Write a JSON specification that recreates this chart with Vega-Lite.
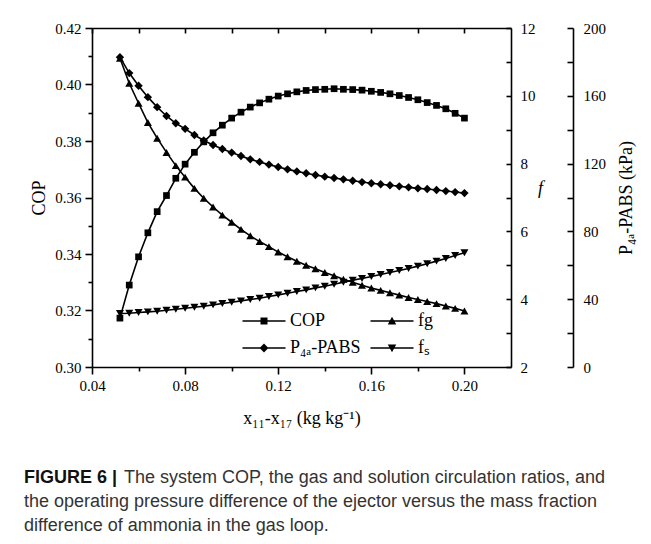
{
  "$schema": "https://vega.github.io/schema/vega-lite/v6.json",
  "width": 419,
  "height": 339,
  "autosize": "none",
  "padding": {"left": 92, "top": 28, "right": 140, "bottom": 177},
  "background": "white",
  "config": {
    "view": {"stroke": null},
    "font": "Liberation Serif",
    "axis": {
      "labelFont": "Liberation Serif", "labelFontSize": 15, "labelColor": "black",
      "titleFont": "Liberation Serif", "titleFontSize": 18, "titleFontWeight": "normal", "titleColor": "black",
      "domainColor": "black", "domainWidth": 1.6, "tickColor": "black", "tickWidth": 1.6, "grid": false
    },
    "legend": {
      "orient": "none", "legendX": 163, "legendY": 284, "columns": 2, "direction": "horizontal", "title": null, "padding": 0,
      "symbolSize": 100, "symbolFillColor": "black", "symbolStrokeColor": "black", "symbolStrokeWidth": 0,
      "symbolOpacity": 1, "labelFont": "Liberation Serif", "labelFontSize": 18, "labelColor": "black",
      "labelOffset": 17, "columnPadding": 9, "rowPadding": 9
    }
  },
  "title": {
    "text": "FIGURE 6 |",
    "subtitle": [
      "\u200b\u00a0\u00a0\u00a0\u00a0\u00a0\u00a0\u00a0\u00a0\u00a0\u00a0\u00a0\u00a0\u00a0\u00a0\u00a0\u00a0\u00a0\u00a0\u00a0\u00a0The system COP, the gas and solution circulation ratios, and",
      "the operating pressure difference of the ejector versus the mass fraction",
      "difference of ammonia in the gas loop."
    ],
    "orient": "bottom", "anchor": "start", "frame": "group",
    "dx": -68, "offset": 42,
    "font": "Liberation Sans", "fontSize": 18, "fontWeight": "bold", "color": "#111111",
    "subtitleFont": "Liberation Sans", "subtitleFontSize": 18, "subtitleColor": "#333333",
    "subtitleLineHeight": 24, "subtitlePadding": -18
  },
  "data": {
    "values": [
      {"x": 0.052, "cop": 0.3173, "fg": 11.11, "p": 182.8, "fs": 3.576},
      {"x": 0.056, "cop": 0.3290, "fg": 10.37, "p": 173.4, "fs": 3.586},
      {"x": 0.060, "cop": 0.3390, "fg": 9.78, "p": 165.9, "fs": 3.606},
      {"x": 0.064, "cop": 0.3475, "fg": 9.21, "p": 159.2, "fs": 3.626},
      {"x": 0.068, "cop": 0.3550, "fg": 8.75, "p": 153.3, "fs": 3.645},
      {"x": 0.072, "cop": 0.3607, "fg": 8.33, "p": 148.1, "fs": 3.675},
      {"x": 0.076, "cop": 0.3668, "fg": 7.94, "p": 143.8, "fs": 3.704},
      {"x": 0.080, "cop": 0.3718, "fg": 7.60, "p": 140.5, "fs": 3.734},
      {"x": 0.084, "cop": 0.3760, "fg": 7.27, "p": 136.9, "fs": 3.764},
      {"x": 0.088, "cop": 0.3797, "fg": 6.98, "p": 133.6, "fs": 3.793},
      {"x": 0.092, "cop": 0.3829, "fg": 6.72, "p": 131.0, "fs": 3.833},
      {"x": 0.096, "cop": 0.3856, "fg": 6.48, "p": 128.6, "fs": 3.872},
      {"x": 0.100, "cop": 0.3881, "fg": 6.27, "p": 126.5, "fs": 3.911},
      {"x": 0.104, "cop": 0.3902, "fg": 6.06, "p": 124.5, "fs": 3.951},
      {"x": 0.108, "cop": 0.3920, "fg": 5.87, "p": 122.5, "fs": 3.990},
      {"x": 0.112, "cop": 0.3935, "fg": 5.70, "p": 121.0, "fs": 4.030},
      {"x": 0.116, "cop": 0.3948, "fg": 5.55, "p": 119.4, "fs": 4.079},
      {"x": 0.120, "cop": 0.3959, "fg": 5.39, "p": 118.0, "fs": 4.128},
      {"x": 0.124, "cop": 0.3967, "fg": 5.25, "p": 116.6, "fs": 4.177},
      {"x": 0.128, "cop": 0.3974, "fg": 5.12, "p": 115.4, "fs": 4.227},
      {"x": 0.132, "cop": 0.3979, "fg": 5.00, "p": 114.3, "fs": 4.276},
      {"x": 0.136, "cop": 0.3982, "fg": 4.90, "p": 113.3, "fs": 4.335},
      {"x": 0.140, "cop": 0.3983, "fg": 4.79, "p": 112.3, "fs": 4.384},
      {"x": 0.144, "cop": 0.3985, "fg": 4.69, "p": 111.5, "fs": 4.443},
      {"x": 0.148, "cop": 0.3983, "fg": 4.59, "p": 110.7, "fs": 4.502},
      {"x": 0.152, "cop": 0.3982, "fg": 4.50, "p": 109.9, "fs": 4.562},
      {"x": 0.156, "cop": 0.3980, "fg": 4.41, "p": 109.1, "fs": 4.611},
      {"x": 0.160, "cop": 0.3976, "fg": 4.33, "p": 108.4, "fs": 4.670},
      {"x": 0.164, "cop": 0.3972, "fg": 4.26, "p": 107.8, "fs": 4.729},
      {"x": 0.168, "cop": 0.3967, "fg": 4.19, "p": 107.2, "fs": 4.788},
      {"x": 0.172, "cop": 0.3961, "fg": 4.12, "p": 106.6, "fs": 4.847},
      {"x": 0.176, "cop": 0.3954, "fg": 4.05, "p": 106.0, "fs": 4.906},
      {"x": 0.180, "cop": 0.3946, "fg": 3.99, "p": 105.4, "fs": 4.975},
      {"x": 0.184, "cop": 0.3936, "fg": 3.93, "p": 105.0, "fs": 5.044},
      {"x": 0.188, "cop": 0.3926, "fg": 3.87, "p": 104.4, "fs": 5.123},
      {"x": 0.192, "cop": 0.3914, "fg": 3.80, "p": 103.8, "fs": 5.202},
      {"x": 0.196, "cop": 0.3898, "fg": 3.73, "p": 103.2, "fs": 5.291},
      {"x": 0.200, "cop": 0.3881, "fg": 3.65, "p": 102.6, "fs": 5.369}
    ]
  },
  "layer": [
    {
      "mark": {"type": "line", "color": "black", "strokeWidth": 1.6,
               "point": {"shape": "square", "filled": true, "size": 45, "color": "black"}},
      "encoding": {
        "x": {"field": "x", "type": "quantitative",
              "scale": {"domain": [0.04, 0.22], "nice": false, "zero": false},
              "axis": {"orient": "bottom", "values": [0.04, 0.06, 0.08, 0.10, 0.12, 0.14, 0.16, 0.18, 0.20],
                       "labelExpr": "round(datum.value*100) % 4 == 0 ? format(datum.value, '.2f') : ''",
                       "tickSize": {"condition": {"test": "round(datum.value*100) % 4 == 0", "value": 7}, "value": 4},
                       "labelPadding": 4, "labelFlush": false, "labelOverlap": false,
                       "title": "x\u2081\u2081-x\u2081\u2087 (kg kg\u207b\u00b9)", "titlePadding": 16}},
        "y": {"field": "cop", "type": "quantitative",
              "scale": {"domain": [0.30, 0.42], "nice": false, "zero": false},
              "axis": {"orient": "left", "values": [0.30, 0.31, 0.32, 0.33, 0.34, 0.35, 0.36, 0.37, 0.38, 0.39, 0.40, 0.41, 0.42],
                       "labelExpr": "round(datum.value*100) % 2 == 0 ? format(datum.value, '.2f') : ''",
                       "tickSize": {"condition": {"test": "round(datum.value*100) % 2 == 0", "value": 7}, "value": 4},
                       "labelPadding": 4, "labelFlush": false, "labelOverlap": false,
                       "title": "COP", "titlePadding": 6}}
      }
    },
    {
      "mark": {"type": "line", "color": "black", "strokeWidth": 1.6,
               "point": {"shape": "triangle-up", "filled": true, "size": 64, "color": "black"}},
      "encoding": {
        "x": {"field": "x", "type": "quantitative",
              "axis": {"orient": "top", "values": [0.04, 0.06, 0.08, 0.10, 0.12, 0.14, 0.16, 0.18, 0.20],
                       "labels": false, "tickSize": -5, "title": null}},
        "y": {"field": "fg", "type": "quantitative",
              "scale": {"domain": [2, 12], "nice": false, "zero": false},
              "axis": {"orient": "right", "values": [2, 3, 4, 5, 6, 7, 8, 9, 10, 11, 12],
                       "labelExpr": "datum.value % 2 == 0 ? datum.label : ''",
                       "tickSize": -5, "labelPadding": 14, "labelFlush": false, "labelOverlap": false,
                       "title": "f", "titleFontStyle": "italic", "titleAngle": 0, "titlePadding": 5}}
      }
    },
    {
      "mark": {"type": "line", "color": "black", "strokeWidth": 1.6,
               "point": {"shape": "triangle-down", "filled": true, "size": 64, "color": "black"}},
      "encoding": {
        "x": {"field": "x", "type": "quantitative", "axis": null},
        "y": {"field": "fs", "type": "quantitative",
              "scale": {"domain": [2, 12], "nice": false, "zero": false}, "axis": null}
      }
    },
    {
      "mark": {"type": "line", "color": "black", "strokeWidth": 1.6,
               "point": {"shape": "diamond", "filled": true, "size": 70, "color": "black"}},
      "encoding": {
        "x": {"field": "x", "type": "quantitative", "axis": null},
        "y": {"field": "p", "type": "quantitative",
              "scale": {"domain": [0, 200], "nice": false, "zero": false},
              "axis": {"orient": "right", "offset": 62, "values": [0, 20, 40, 60, 80, 100, 120, 140, 160, 180, 200],
                       "labelExpr": "datum.value % 40 == 0 ? datum.label : ''",
                       "tickSize": -6, "labelPadding": 16, "labelFlush": false, "labelOverlap": false,
                       "title": "P\u2084\u2090-PABS (kPa)", "titleAngle": -90, "titlePadding": 30}}
      }
    },
    {
      "data": {"values": []},
      "mark": {"type": "point", "filled": true, "color": "black", "opacity": 1},
      "encoding": {
        "shape": {"field": "series", "type": "nominal", "sort": null,
                  "scale": {"domain": ["COP", "fg", "P\u2084\u2090-PABS", "f\u209b"],
                            "range": [
                              "M-4.3,-0.16H4.3V0.16H-4.3ZM-0.7,-0.7H0.7V0.7H-0.7Z",
                              "M-4.3,-0.16H4.3V0.16H-4.3ZM-0.85,0.72L0,-0.85L0.85,0.72Z",
                              "M-4.3,-0.16H4.3V0.16H-4.3ZM0,-0.88L0.88,0L0,0.88L-0.88,0Z",
                              "M-4.3,-0.16H4.3V0.16H-4.3ZM0.85,-0.72L0,0.85L-0.85,-0.72Z"
                            ]},
                  "legend": {"orient": "none", "direction": "horizontal", "columns": 2}}
      }
    }
  ],
  "resolve": {
    "scale": {"y": "independent", "shape": "independent"},
    "axis": {"x": "independent", "y": "independent"}
  }
}
